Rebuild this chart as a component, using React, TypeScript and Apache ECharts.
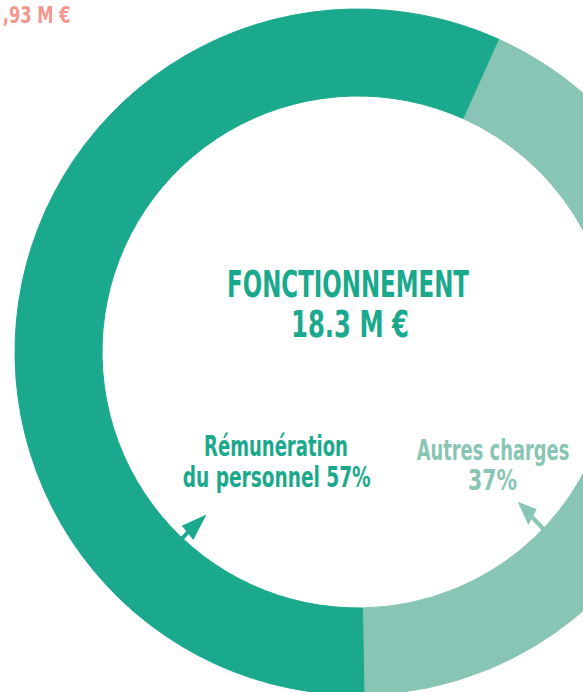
import { useEffect, useRef } from "react";
import * as echarts from "echarts";

// ---- data ----
const sliceNames = ["Autres charges", "Autres (non libellé)", "Rémunération du personnel"];
const sliceShares = [37, 6, 57];
const sliceColors = ["#89c5b4", "#89c5b4", "#1aa98c"];
const centerTitle = "FONCTIONNEMENT";
const centerTotal = "18.3 M €";
const labelPersonnel = ["Rémunération", "du personnel 57%"];
const labelAutres = ["Autres charges", "37%"];
const cutText = ",93 M €";

const FONT = "'Liberation Sans Narrow', 'DejaVu Sans Condensed', Roboto, sans-serif";
const DARK = "#1aa98c";
const LIGHT = "#89c5b4";
const SALMON = "#f4978e";

let ctx: CanvasRenderingContext2D | null = null;
function measure(text: string, size: number): number {
  if (!ctx) ctx = document.createElement("canvas").getContext("2d");
  if (!ctx) return text.length * size * 0.5;
  ctx.font = `bold ${size}px ${FONT}`;
  return ctx.measureText(text).width;
}

function fitText(text: string, x: number, y: number, size: number, width: number, color: string, align: "center" | "left" = "center") {
  const w = measure(text, size);
  return {
    type: "text",
    x,
    y,
    scaleX: width / w,
    silent: true,
    style: {
      x: 0,
      y: 0,
      text,
      fill: color,
      font: `bold ${size}px ${FONT}`,
      align,
      verticalAlign: "middle",
    },
  };
}

export default function App() {
  const ref = useRef<HTMLDivElement>(null);
  useEffect(() => {
    if (!ref.current) return;
    const chart = echarts.init(ref.current, undefined, { renderer: "svg" });
    chart.setOption({
      animation: false,
      backgroundColor: "#ffffff",
      series: [
        {
          type: "pie",
          center: [358, 352],
          radius: [256, 343],
          startAngle: 65.8,
          clockwise: true,
          silent: true,
          label: { show: false },
          labelLine: { show: false },
          emphasis: { disabled: true },
          data: sliceNames.map((n, i) => ({
            name: n,
            value: sliceShares[i],
            itemStyle: { color: sliceColors[i], borderColor: sliceColors[i], borderWidth: 1 },
          })),
        },
      ],
      graphic: [
        fitText(cutText, 2.7, 15.7, 23, 68, SALMON, "left"),
        fitText(centerTitle, 348, 284.2, 37, 242, DARK),
        fitText(centerTotal, 350, 324, 37, 118, DARK),
        fitText(labelPersonnel[0], 276, 446.7, 28, 144, DARK),
        fitText(labelPersonnel[1], 276.7, 477.7, 28, 188, DARK),
        fitText(labelAutres[0], 493, 450, 28, 152.6, LIGHT),
        fitText(labelAutres[1], 492.5, 479.7, 28, 49, LIGHT),
        // arrow for personnel
        {
          type: "line",
          silent: true,
          shape: { x1: 190, y1: 530, x2: 174, y2: 547 },
          style: { stroke: DARK, lineWidth: 4 },
        },
        {
          type: "polygon",
          silent: true,
          shape: { points: [[206.5, 514.5], [181.7, 525.7], [193.3, 540]] },
          style: { fill: DARK },
        },
        // arrow for autres charges
        {
          type: "line",
          silent: true,
          shape: { x1: 531, y1: 516, x2: 553, y2: 539 },
          style: { stroke: LIGHT, lineWidth: 4 },
        },
        {
          type: "polygon",
          silent: true,
          shape: { points: [[517.7, 501.7], [536.7, 509.3], [528.3, 525]] },
          style: { fill: LIGHT },
        },
      ],
    });
    return () => chart.dispose();
  }, []);
  return (
    <div
      ref={ref}
      style={{ position: "absolute", left: 0, top: 0, width: 583, height: 692, background: "#fff" }}
    />
  );
}
